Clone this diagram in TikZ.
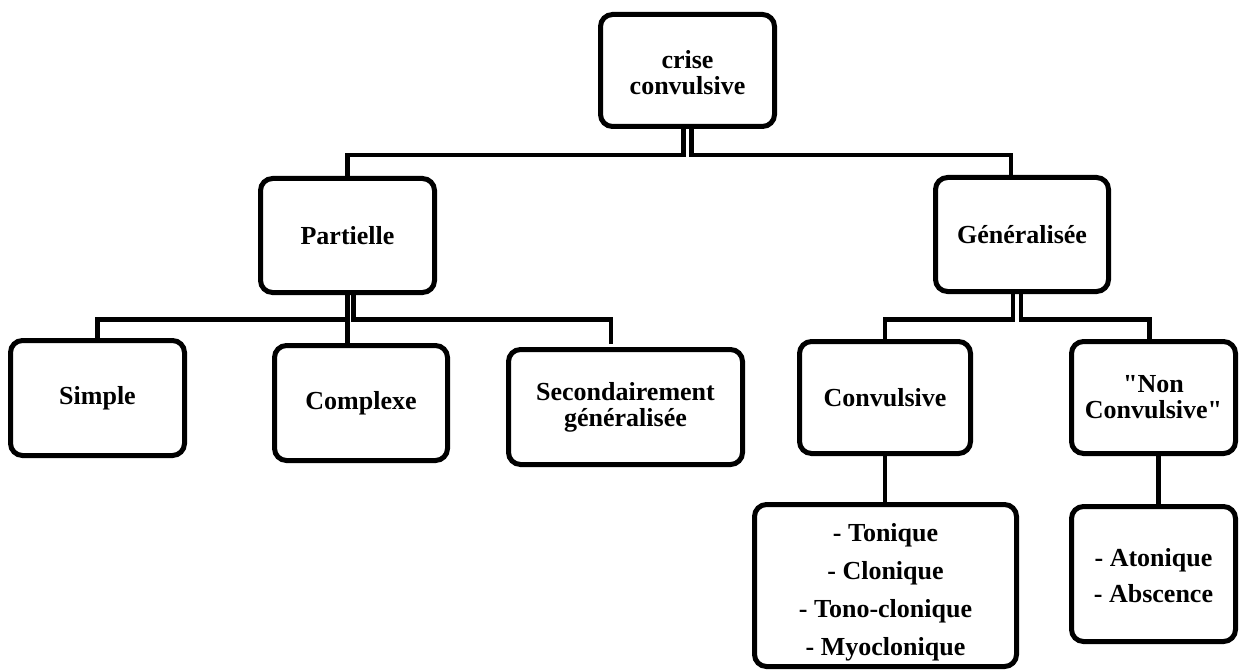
\documentclass[tikz,border=0pt]{standalone}
\usepackage{fontspec}
\setmainfont{Liberation Serif}[Ligatures=TeXOff]
\begin{document}
\begin{tikzpicture}[x=1pt,y=-1pt,
  box/.style={draw, line width=5pt, rounded corners=12pt, align=center,
    inner sep=0pt, font=\fontsize{26}{26}\selectfont\bfseries},
  listbox/.style={box, font=\fontsize{26}{38}\selectfont\bfseries},
  link/.style={line width=4.5pt}]
\useasboundingbox (0,0) rectangle (1247,671);

% level 0
\node[box, minimum width=174pt, minimum height=112pt] (crise) at (687.5,70.5) {\rule{0pt}{22pt}crise\\convulsive};

% level 1
\node[box, minimum width=174pt, minimum height=114pt] (part) at (347.5,235.5) {Partielle};
\node[box, minimum width=173pt, minimum height=114pt] (gen) at (1022,234.5) {Généralisée};

% level 2
\node[box, minimum width=174pt, minimum height=115pt] (simple) at (97.5,398) {Simple};
\node[box, minimum width=173pt, minimum height=115pt] (cplx) at (361,403) {Complexe};
\node[box, minimum width=234pt, minimum height=115pt] (sec) at (625.5,407) {Secondairement\\généralisée};
\node[box, minimum width=171pt, minimum height=112pt] (conv) at (885,397.5) {Convulsive};
\node[box, minimum width=164pt, minimum height=112pt] (nonc) at (1153.5,397.5) {"Non\\Convulsive"};

% level 3
\node[listbox, minimum width=262pt, minimum height=162pt] (tlist) at (885.5,585.5)
  {\rule{0pt}{32pt}- Tonique\\- Clonique\\- Tono-clonique\\- Myoclonique};
\node[box, font=\fontsize{26}{36}\selectfont\bfseries, minimum width=164pt, minimum height=135pt] (alist) at (1153.5,574)
  {\rule{0pt}{21pt}- Atonique\\- Abscence};

% connectors
\draw[link] ([xshift=-4pt]crise.south) -- ++(0,26) -| (part.north);
\draw[link] ([xshift=4pt]crise.south) -- ++(0,26) -| ([xshift=-11pt]gen.north);

\draw[link] (part.south) -- ++(0,24.5) -| (simple.north);
\draw[link] (part.south) -- (part.south |- cplx.north);
\draw[link, shorten >=3pt] ([xshift=6pt]part.south) -- ++(0,24.5) -| ([xshift=-14.5pt]sec.north);

\draw[link] ([xshift=-9pt]gen.south) -- ++(0,25.5) -| (conv.north);
\draw[link] ([xshift=-1pt]gen.south) -- ++(0,25.5) -| ([xshift=-4pt]nonc.north);

\draw[link] (conv.south) -- (conv.south |- tlist.north);
\draw[link] ([xshift=5pt]nonc.south) -- ([xshift=5pt]nonc.south |- alist.north);
\end{tikzpicture}
\end{document}
